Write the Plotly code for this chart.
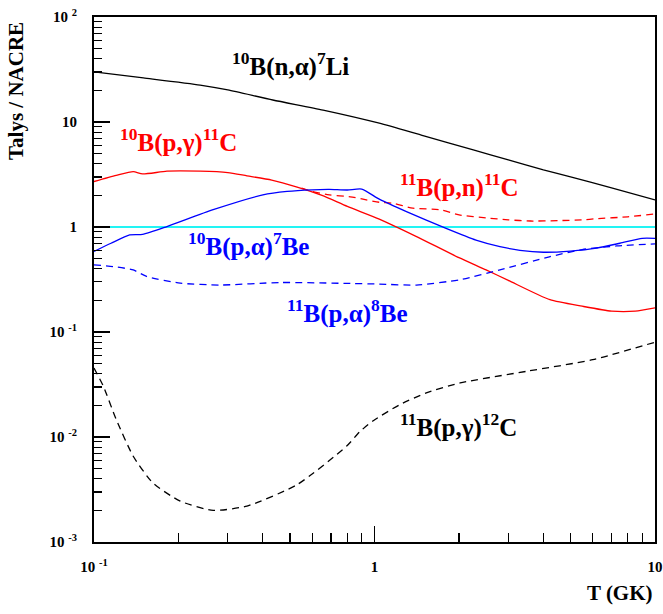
import plotly.graph_objects as go

# ---- data ----
T_n_alpha_10B = [0.1, 0.15, 0.239, 0.3, 0.434, 0.656, 1.04, 1.5, 2.25, 3.0, 4.0, 5.0, 7.0, 10.0]
R_n_alpha_10B = [30.0, 26.3, 22.5, 20.2, 16.2, 13.0, 9.75, 7.37, 5.43, 4.36, 3.50, 3.0, 2.36, 1.81]

T_p_gamma_10B = [0.1, 0.12, 0.138, 0.149, 0.182, 0.239, 0.3, 0.351, 0.43, 0.53, 0.65, 0.8, 1.04,
                 1.4, 2.0, 2.5, 3.0, 4.22, 5.5, 7.0, 8.5, 10.0]
R_p_gamma_10B = [2.71, 3.1, 3.37, 3.2, 3.4, 3.4, 3.3, 3.07, 2.8, 2.4, 2.0, 1.57, 1.19,
                 0.82, 0.51, 0.39, 0.31, 0.203, 0.176, 0.158, 0.158, 0.17]

T_p_n_11B = [0.55, 0.6, 0.69, 0.82, 0.91, 1.04, 1.17, 1.37, 1.71, 2.02, 2.5, 3.0, 3.6, 4.5,
             5.5, 6.2, 8.0, 10.0]
R_p_n_11B = [2.35, 2.18, 2.02, 1.94, 1.84, 1.72, 1.68, 1.51, 1.46, 1.30, 1.22, 1.17, 1.14, 1.15,
             1.17, 1.20, 1.25, 1.33]

T_p_alpha_10B = [0.1, 0.115, 0.134, 0.149, 0.182, 0.266, 0.4, 0.488, 0.6, 0.69, 0.8, 0.9, 1.04,
                 1.3, 1.8, 2.3, 2.8, 3.3, 4.0, 5.0, 6.2, 7.5, 9.0, 10.0]
R_p_alpha_10B = [0.585, 0.70, 0.84, 0.85, 1.01, 1.46, 2.02, 2.18, 2.26, 2.28, 2.25, 2.30, 1.84,
                 1.40, 0.97, 0.75, 0.65, 0.60, 0.575, 0.59, 0.63, 0.70, 0.78, 0.78]

T_p_alpha_11B = [0.1, 0.117, 0.138, 0.154, 0.203, 0.281, 0.46, 0.82, 1.04, 1.41, 2.02, 2.8, 4.2,
                 5.5, 7.3, 10.0]
R_p_alpha_11B = [0.436, 0.42, 0.39, 0.338, 0.292, 0.28, 0.296, 0.29, 0.286, 0.28, 0.315, 0.39,
                 0.52, 0.61, 0.66, 0.69]

T_p_gamma_11B = [0.1, 0.108, 0.12, 0.138, 0.162, 0.203, 0.266, 0.351, 0.53, 0.796, 0.887, 0.99,
                 1.23, 1.53, 2.02, 3.48, 6.0, 10.0]
R_p_gamma_11B = [0.0454, 0.0304, 0.0147, 0.00656, 0.00366, 0.00245, 0.0020, 0.0022, 0.00352,
                 0.0082, 0.01125, 0.0143, 0.0203, 0.0263, 0.0327, 0.0422, 0.0545, 0.080]

T_unity = [0.1, 10.0]
R_unity = [1.0, 1.0]

x_tick_vals = [0.1, 1, 10]
x_tick_text = ["10 <sup>-1</sup>", "1", "10"]
y_tick_vals = [1e-3, 1e-2, 1e-1, 1, 10, 100]
y_tick_text = ["10 <sup>-3</sup>", "10 <sup>-2</sup>", "10 <sup>-1</sup>", "1", "10", "10 <sup>2</sup>"]

labels = [
    ("<b><sup>10</sup>B(n,α)<sup>7</sup>Li</b>", "black", 290, 65),
    ("<b><sup>10</sup>B(p,γ)<sup>11</sup>C</b>", "red", 178, 141),
    ("<b><sup>11</sup>B(p,n)<sup>11</sup>C</b>", "red", 459, 186),
    ("<b><sup>10</sup>B(p,α)<sup>7</sup>Be</b>", "blue", 248, 245),
    ("<b><sup>11</sup>B(p,α)<sup>8</sup>Be</b>", "blue", 347, 312),
    ("<b><sup>11</sup>B(p,γ)<sup>12</sup>C</b>", "black", 458, 426),
]

# ---- figure ----
W, H = 663, 614
L, R, Tm, B = 94, 8, 17, 71.5
pw, ph = W - L - R, H - Tm - B

fig = go.Figure()
LW = 1.3
dash = "7px,5px"
sp = dict(shape="spline", smoothing=0.6)
fig.add_trace(go.Scatter(x=T_unity, y=R_unity, mode="lines", line=dict(color="#22f4f4", width=2.2)))
fig.add_trace(go.Scatter(x=T_n_alpha_10B, y=R_n_alpha_10B, mode="lines", line=dict(color="black", width=LW, **sp)))
fig.add_trace(go.Scatter(x=T_p_gamma_10B, y=R_p_gamma_10B, mode="lines", line=dict(color="red", width=LW, **sp)))
fig.add_trace(go.Scatter(x=T_p_n_11B, y=R_p_n_11B, mode="lines", line=dict(color="red", width=LW, dash=dash, **sp)))
fig.add_trace(go.Scatter(x=T_p_alpha_10B, y=R_p_alpha_10B, mode="lines", line=dict(color="blue", width=LW, **sp)))
fig.add_trace(go.Scatter(x=T_p_alpha_11B, y=R_p_alpha_11B, mode="lines", line=dict(color="blue", width=LW, dash=dash, **sp)))
fig.add_trace(go.Scatter(x=T_p_gamma_11B, y=R_p_gamma_11B, mode="lines", line=dict(color="black", width=LW, dash=dash, **sp)))

def minor_vals(lo, hi):
    out = []
    for e in range(lo, hi):
        for m in range(2, 10):
            out.append(m * 10 ** e)
    return out

font_tick = dict(family="Liberation Serif", size=15, color="black")

fig.update_xaxes(type="log", range=[-1, 1], showgrid=False, zeroline=False, automargin=False,
                 showline=True, linecolor="black", linewidth=2, mirror=True,
                 ticks="inside", ticklen=16, tickwidth=1.2, tickcolor="black",
                 tickmode="array", tickvals=x_tick_vals, ticktext=[f"<b>{t}</b>" for t in x_tick_text],
                 tickfont=font_tick, ticklabelstandoff=10,
                 minor=dict(ticks="inside", ticklen=9, tickwidth=1.2, tickcolor="black",
                            tickmode="array", tickvals=minor_vals(-1, 1), showgrid=False))
fig.update_yaxes(type="log", range=[-3, 2], showgrid=False, zeroline=False, automargin=False,
                 showline=True, linecolor="black", linewidth=2, mirror=True,
                 ticks="inside", ticklen=16, tickwidth=1.2, tickcolor="black",
                 tickmode="array", tickvals=y_tick_vals, ticktext=[f"<b>{t}</b>" for t in y_tick_text],
                 tickfont=font_tick, ticklabelstandoff=12,
                 minor=dict(ticks="inside", ticklen=8, tickwidth=1.2, tickcolor="black",
                            tickmode="array", tickvals=minor_vals(-3, 2), showgrid=False))

ann = []
for text, col, cx, cy in labels:
    ann.append(dict(text=text, x=(cx - L) / pw, y=(H - B - cy) / ph, xref="paper", yref="paper",
                    xanchor="center", yanchor="middle", showarrow=False,
                    font=dict(family="Liberation Serif", size=25, color=col)))
ann.append(dict(text="<b>Talys / NACRE</b>", x=(16 - L) / pw, y=(H - B - 20) / ph, xref="paper", yref="paper",
                xanchor="center", yanchor="top", textangle=-90, showarrow=False,
                font=dict(family="Liberation Serif", size=21, color="black")))
ann.append(dict(text="<b>T (GK)</b>", x=1.0, y=(H - B - 594) / ph, xref="paper", yref="paper",
                xanchor="right", yanchor="middle", showarrow=False,
                font=dict(family="Liberation Serif", size=21, color="black")))

fig.update_layout(width=W, height=H, margin=dict(l=L, r=R, t=Tm, b=B, pad=0),
                  paper_bgcolor="white", plot_bgcolor="white", showlegend=False,
                  hovermode=False, annotations=ann)

fig.write_html("out.html", config={"displayModeBar": False, "staticPlot": True},
               post_script="document.body.style.margin='0';document.body.style.overflow='hidden';")
